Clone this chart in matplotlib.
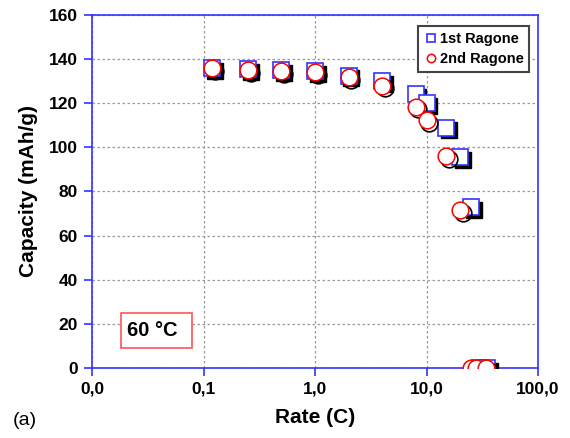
import matplotlib
matplotlib.use("Agg")
import matplotlib.pyplot as plt
import matplotlib.transforms as mtransforms
from matplotlib.patches import Rectangle
from matplotlib.ticker import FixedLocator, FixedFormatter, NullLocator

plt.rcParams["font.family"] = ["Liberation Sans", "DejaVu Sans"]

# data
rate_1st = [0.12, 0.25, 0.5, 1, 2, 4, 8, 10, 15, 20, 25, 30, 35]
cap_1st = [136, 135.5, 135, 134.5, 132.5, 130, 124, 120, 109, 95.5, 73, 0, 0]
rate_2nd = [0.12, 0.25, 0.5, 1, 2, 4, 8, 10, 15, 20, 25, 28, 34]
cap_2nd = [136, 135, 134.5, 134, 132, 128, 118.5, 112.5, 96, 71.5, 0, 0, 0]

x_ticks = [0.01, 0.1, 1, 10, 100]
x_labels = ["0,0", "0,1", "1,0", "10,0", "100,0"]
y_ticks = [0, 20, 40, 60, 80, 100, 120, 140, 160]

blue = "#3333ff"
fig = plt.figure(figsize=(5.7, 4.38), dpi=100)
ax = fig.add_axes([0.1614, 0.1598, 0.7825, 0.806])

# shadow offset down/right
shadow = mtransforms.offset_copy(ax.transData, fig=fig, x=2.0, y=-2.0, units="points")

ax.plot(rate_1st, cap_1st, "s", ms=12, mfc="black", mec="black", transform=shadow, zorder=3)
ax.plot(rate_1st, cap_1st, "s", ms=12, mfc="white", mec=blue, mew=1.2, zorder=4,
        label="1st Ragone")
ax.plot(rate_2nd, cap_2nd, "o", ms=12, mfc="none", mec="black", mew=1.2, transform=shadow, zorder=5)
ax.plot(rate_2nd, cap_2nd, "o", ms=12, mfc="white", mec="red", mew=1.1, zorder=6,
        label="2nd Ragone")

ax.set_xscale("log")
ax.set_xlim(0.01, 100)
ax.set_ylim(0, 160)
ax.xaxis.set_major_locator(FixedLocator(x_ticks))
ax.xaxis.set_major_formatter(FixedFormatter(x_labels))
ax.xaxis.set_minor_locator(NullLocator())
ax.set_yticks(y_ticks)

for sp in ax.spines.values():
    sp.set_color(blue)
    sp.set_linewidth(1.2)
ax.tick_params(direction="out", length=6, width=1.2, color=blue, labelsize=12.5, pad=4)
for lab in ax.get_xticklabels() + ax.get_yticklabels():
    lab.set_fontweight("bold")

ax.grid(True, color="#999999", linestyle=(0, (2, 2)), linewidth=0.9)
ax.set_axisbelow(True)

ax.set_xlabel("Rate (C)", fontsize=15, fontweight="bold", labelpad=8)
ax.set_ylabel("Capacity (mAh/g)", fontsize=15, fontweight="bold", labelpad=8)

leg = ax.legend(loc="upper right", bbox_to_anchor=(0.997, 0.99),
                prop={"weight": "bold", "size": 10.5}, fancybox=False, framealpha=1,
                handletextpad=0.1, handlelength=1.0, borderpad=0.4, labelspacing=0.45,
                markerscale=0.5)
leg.get_frame().set_edgecolor("#444444")
leg.get_frame().set_linewidth(1.5)

# temperature box
ax.add_patch(Rectangle((0.065, 0.0567), 0.159, 0.099, transform=ax.transAxes,
                       fc="white", ec="#ff5555", lw=1.2, zorder=7))
ax.text(0.0785, 0.106, "60 °C", transform=ax.transAxes, fontsize=14.5, fontweight="bold",
        va="center", ha="left", zorder=8)

fig.text(0.022, 0.03, "(a)", fontsize=14)

fig.savefig("out.png", dpi=100)
